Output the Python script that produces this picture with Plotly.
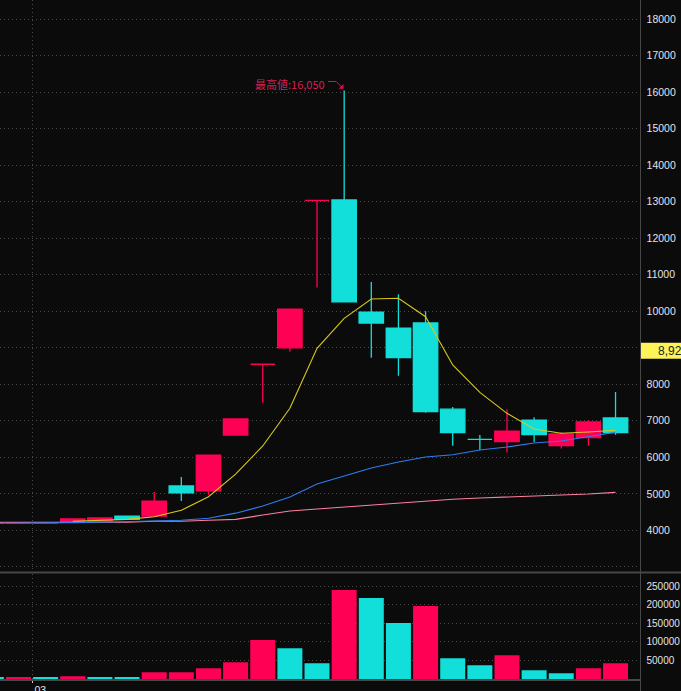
# -*- coding: utf-8 -*-

import plotly.graph_objects as go

# =========================
# DATA
# =========================
bar_index = list(range(-1, 23))

open_price = [4200, 4200, 4200, 4220, 4250, 4390, 4390, 5215, 5080, 6610, 8550, 9000, 13040,
              13050, 9980, 9540, 9680, 7320, 6490, 6430, 7020, 6320, 6540, 7080]
high_price = [4200, 4200, 4200, 4310, 4340, 4390, 5050, 5460, 6060, 7050, 8550, 10060, 13040,
              16050, 10800, 10470, 10000, 7380, 6610, 7320, 7100, 6690, 7020, 7790]
low_price = [4200, 4200, 4200, 4220, 4250, 4300, 4390, 4800, 4970, 6590, 7495, 8890, 10650,
             10260, 8730, 8235, 7220, 6320, 6200, 6130, 6420, 6240, 6320, 6620]
close_price = [4200, 4200, 4200, 4310, 4340, 4300, 4800, 5025, 6060, 7050, 8550, 10060, 13040,
               10260, 9680, 8730, 7250, 6675, 6490, 6720, 6620, 6640, 6970, 6680]

ma_short = [None, None, None, 4247, 4275, 4300, 4373, 4548, 4920, 5540, 6310, 7342, 8986,
            9808, 10337, 10356, 9852, 8529, 7780, 7205, 6775, 6658, 6693, 6740]
ma_mid = [4190, 4190, 4200, 4210, 4220, 4240, 4275, 4275, 4330, 4470, 4665, 4912, 5268,
          5488, 5707, 5871, 6008, 6071, 6200, 6282, 6392, 6447, 6564, 6685]
ma_long = [4220, 4220, 4220, 4220, 4220, 4220, 4247, 4247, 4275, 4300, 4420, 4530, 4585,
           4640, 4695, 4750, 4800, 4850, 4885, 4912, 4932, 4967, 4995, 5040]

volume = [4900, 4900, 4900, 7500, 4900, 4900, 18400, 18400, 29200, 45400, 104900, 83200, 42700,
          240000, 218400, 150800, 196800, 56200, 37300, 64300, 23800, 15700, 29200, 42700]
volume_up = [0, 1, 0, 1, 0, 0, 1, 1, 1, 1, 1, 0, 0,
             1, 0, 0, 1, 0, 0, 1, 0, 0, 1, 1]

price_ticks = list(range(3000, 19000, 1000))
hidden_price_ticks = [3000, 9000]
volume_ticks = [50000, 100000, 150000, 200000, 250000]
month_tick = 0.508
month_label = "03"
high_label = "最高値:16,050"
high_value = 16050
high_at = 12
last_price = 8920
last_label = "8,920"

# =========================
# CONFIG
# =========================
RED = "#ff0055"
CYAN = "#12dfda"
BG = "#0b0b0b"
GRID = "#4a4a4a"
EDGE = "#474747"
TICK_TEXT = "#e0e4ea"
W, H = 681, 691
FONT = "Liberation Sans"
DOT = "1px,3px"

# =========================
# FIGURE
# =========================
fig = go.Figure()

fig.add_trace(go.Bar(
    x=bar_index, y=volume, xaxis="x2", yaxis="y2",
    marker=dict(color=[RED if u else CYAN for u in volume_up], line_width=0),
    hoverinfo="skip", showlegend=False,
))

fig.add_trace(go.Candlestick(
    x=bar_index, open=open_price, high=high_price, low=low_price, close=close_price,
    increasing=dict(line=dict(color=RED, width=1.3), fillcolor=RED),
    decreasing=dict(line=dict(color=CYAN, width=1.3), fillcolor=CYAN),
    whiskerwidth=0, hoverinfo="skip", showlegend=False,
))

for values, color in [(ma_long, "#ff7fa0"), (ma_mid, "#2f7df0"), (ma_short, "#d8c81e")]:
    fig.add_trace(go.Scatter(
        x=bar_index, y=values, mode="lines",
        line=dict(color=color, width=1.1),
        hoverinfo="skip", showlegend=False,
    ))

x_range = [-0.682, 22.92]
plot_right = 640.5 / W

fig.update_layout(
    width=W, height=H,
    margin=dict(l=0, r=0, t=0, b=0),
    paper_bgcolor=BG, plot_bgcolor=BG,
    bargap=0.079, boxgap=0.1, boxgroupgap=0,
    font=dict(family=FONT, size=10.5, color=TICK_TEXT),
    xaxis=dict(
        domain=[0, plot_right], range=x_range, anchor="y", automargin=False,
        rangeslider=dict(visible=False),
        tickvals=[month_tick], showticklabels=False, ticks="",
        showgrid=True, gridcolor=GRID, griddash=DOT, gridwidth=1,
        zeroline=False, showline=False,
    ),
    yaxis=dict(
        domain=[1 - 572 / H, 1], range=[2858, 18529], side="right", anchor="x", automargin=False,
        tickvals=price_ticks,
        ticktext=["" if v in hidden_price_ticks else str(v) for v in price_ticks],
        ticks="outside", ticklen=3, tickcolor="rgba(0,0,0,0)",
        showgrid=True, gridcolor=GRID, griddash=DOT, gridwidth=1,
        zeroline=False, showline=False,
    ),
    xaxis2=dict(
        domain=[0, plot_right], range=x_range, anchor="y2", automargin=False,
        tickvals=[month_tick], ticktext=[month_label],
        ticklabelshift=8, ticklabelstandoff=-2, ticks="outside", ticklen=2, tickcolor="#cccccc",
        showgrid=True, gridcolor=GRID, griddash=DOT, gridwidth=1,
        zeroline=False, showline=True, linecolor=EDGE, linewidth=2,
    ),
    yaxis2=dict(
        domain=[(H - 679) / H, (H - 574) / H], range=[0, 283243], side="right", anchor="x2",
        automargin=False,
        tickvals=volume_ticks, ticktext=[str(v) for v in volume_ticks],
        tickfont=dict(size=10),
        ticks="outside", ticklen=3, tickcolor="rgba(0,0,0,0)",
        showgrid=True, gridcolor=GRID, griddash=DOT, gridwidth=1,
        zeroline=False, showline=False,
    ),
)

# pane edges
fig.add_shape(type="line", xref="paper", yref="paper", x0=0, x1=1,
              y0=1 - 572.5 / H, y1=1 - 572.5 / H, line=dict(color=EDGE, width=2))
fig.add_shape(type="line", xref="paper", yref="paper", x0=plot_right, x1=plot_right,
              y0=0, y1=1, line=dict(color=EDGE, width=1))

# last price tag
fig.add_shape(type="rect", xref="paper", yref="y", x0=641 / W, x1=1,
              ysizemode="pixel", yanchor=last_price, y0=-8, y1=8,
              fillcolor="#fff35a", line_width=0)
fig.add_annotation(text=last_label, xref="paper", yref="y", x=656 / W, y=last_price,
                   xanchor="left", yanchor="middle", showarrow=False,
                   font=dict(family=FONT, size=12, color="#222222"))

# highest value marker, bent arrow drawn in pixels from the top of the wick
fig.add_annotation(text=high_label, xref="x", yref="y", x=high_at, y=high_value,
                   xanchor="right", yanchor="middle", xshift=-17, yshift=6, showarrow=False,
                   font=dict(family="Noto Sans CJK JP", size=11, color="#d81e52"))
fig.add_shape(type="path", xref="x", yref="y", xsizemode="pixel", ysizemode="pixel",
              xanchor=high_at, yanchor=high_value, path="M -16 9 L -8 9 L -2 3",
              line=dict(color=RED, width=1))
fig.add_shape(type="path", xref="x", yref="y", xsizemode="pixel", ysizemode="pixel",
              xanchor=high_at, yanchor=high_value, path="M -1 2 L -5 2 L -1 6 Z",
              fillcolor=RED, line=dict(color=RED, width=0.5))

fig.write_html("out.html", config=dict(displayModeBar=False),
               post_script="document.body.style.margin='0';document.body.style.background='%s';" % BG)
